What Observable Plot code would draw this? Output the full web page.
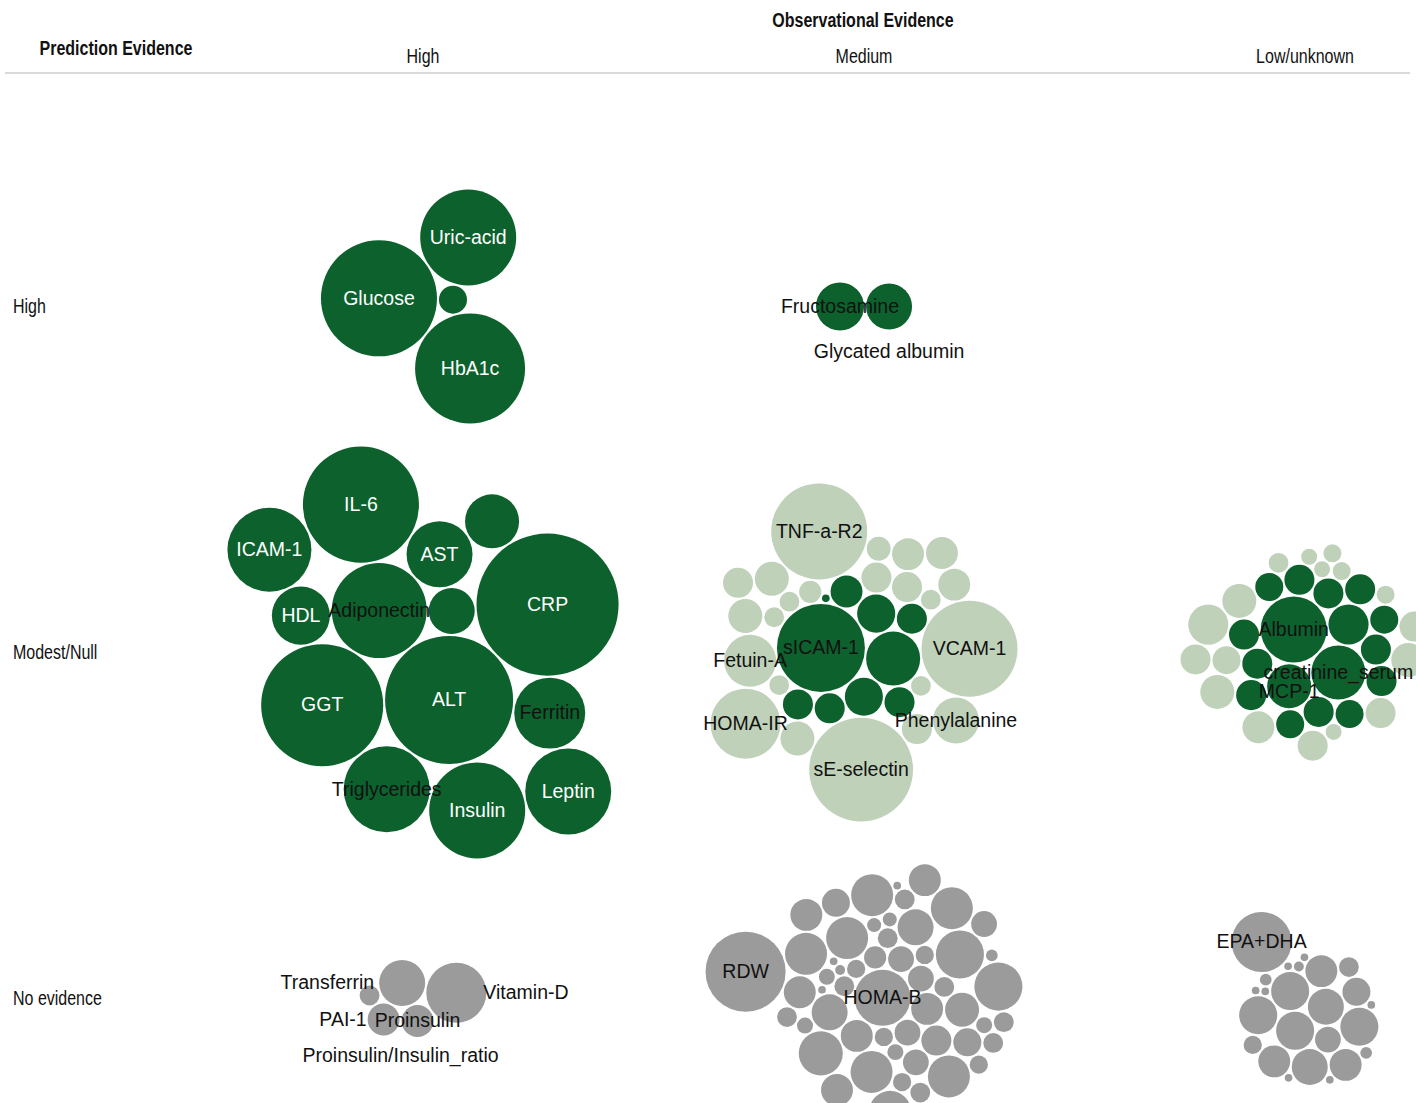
<!DOCTYPE html>
<html><head><meta charset="utf-8">
<script src="https://cdn.jsdelivr.net/npm/d3@7"></script>
<script src="https://cdn.jsdelivr.net/npm/@observablehq/plot@0.6"></script>
<style>
body{margin:0;background:#fff;}
#wrap{position:relative;width:1416px;height:1103px;overflow:hidden;}
.hdr{position:absolute;font-family:"Liberation Sans",Arial,sans-serif;font-size:19.5px;color:#111;white-space:nowrap;transform:translate(-50%,-50%) scaleX(0.82);}
.row{position:absolute;font-family:"Liberation Sans",Arial,sans-serif;font-size:19.5px;color:#111;white-space:nowrap;transform-origin:left center;transform:translateY(-50%) scaleX(0.82);}
.b{font-weight:bold;}
#line{position:absolute;left:5px;top:72px;width:1405px;height:2px;background:#dadada;}
</style></head><body>
<div id="wrap">
<div class="hdr b" style="left:863px;top:20px">Observational Evidence</div>
<div class="hdr b" style="left:116px;top:48px">Prediction Evidence</div>
<div id="line"></div>
</div>
<script>
// ---- categories ----
const obsLevels = ["High", "Medium", "Low/unknown"];
const predLevels = ["High", "Modest/Null", "No evidence"];
const kinds = ["strong", "weak", "none"];

// ---- clusters (names: "" = unlabeled; values: bubble size) ----
// Prediction High × Observational High
const hiHi_names = ["Glucose", "", "HbA1c", "Uric-acid"];
const hiHi_values = [68.7, 4, 61.7, 47];
// Prediction High × Observational Medium
const hiMed_names = ["Fructosamine", "Glycated albumin"];
const hiMed_values = [11.8, 10.8];
// Prediction Modest/Null × Observational High
const modHi_names = ["Adiponectin", "ALT", "GGT", "", "AST", "CRP", "Triglycerides", "HDL", "Ferritin", "", "IL-6", "Insulin", "ICAM-1", "Leptin"];
const modHi_values = [46, 83.6, 76, 10.8, 22.2, 103, 37.7, 17.2, 25.7, 14.9, 68.7, 47, 36, 37.7];
// Prediction Modest/Null × Observational Medium (strong)
const modMedS_names = ["sICAM-1", "", "", "", "", "", "", "", "", ""];
const modMedS_values = [39.5, 14.9, 7.4, 7.4, 5.2, 4.6, 4.6, 4.6, 4.6, 0.3];
// Prediction Modest/Null × Observational Medium (weak)
const modMedW_names = ["sE-selectin", "", "", "TNF-a-R2", "", "", "", "VCAM-1", "", "", "", "Fetuin-A", "", "", "Phenylalanine", "", "", "HOMA-IR", "", "", "", "", ""];
const modMedW_values = [55, 4.6, 2.5, 47, 2, 4.6, 4.6, 47, 2, 2, 5.9, 13.8, 2, 2.9, 10.8, 5.9, 5.9, 25, 2, 4.6, 5.2, 5.2, 5.2];
// Prediction Modest/Null × Observational Low/unknown (strong)
const modLowS_names = ["Albumin", "creatinine_serum", "MCP-1", "", "", "", "", "", "", "", "", "", "", "", "", "", ""];
const modLowS_values = [22.2, 14.9, 9.9, 8.2, 4.6, 4.6, 4.6, 4.6, 4.6, 4.6, 4.6, 4.6, 4.6, 4, 4, 4, 4];
// Prediction Modest/Null × Observational Low/unknown (weak)
const modLowW_values = [5.9, 4.6, 1.65, 1.3, 4, 5.2, 1.65, 5.9, 5.9, 1.3, 4.6, 4.6, 1.65, 2, 1.3, 8.2, 4.6];
// Prediction No evidence × Observational High
const noHi_names = ["Transferrin", "Proinsulin", "PAI-1", "Vitamin-D", "Proinsulin/Insulin_ratio"];
const noHi_values = [10.8, 5.2, 5.2, 18.4, 2];
// Prediction No evidence × Observational Medium (HOMA-B first, RDW last)
const noMed_values = [16, 3.4, 5.2, 3.4, 2.5, 3.4, 1.7, 1.7, 2, 1.7, 2, 2, 5.2, 4.6, 11.8, 6.6, 6.6, 9, 5.9, 1.3, 1, 0.5, 9, 4, 3.4, 0.3, 9, 1.3, 11.8, 0.3, 1, 9.9, 9, 9, 1.7, 9, 5.2, 4, 2, 5.2, 1.7, 1.3, 1.3, 2, 5.2, 5.2, 2, 2, 3.4, 0.7, 9, 2, 0.3, 32.7];
const noMed_names = noMed_values.map((v, i) => i === 0 ? "HOMA-B" : i === noMed_values.length - 1 ? "RDW" : "");
// Prediction No evidence × Observational Low/unknown (EPA+DHA last)
const noLow_values = [6.6, 7.4, 7.4, 3.4, 7.4, 6.6, 7.4, 5.2, 5.2, 4, 5.2, 1.7, 2, 0.7, 0.5, 0.3, 0.3, 0.7, 0.3, 0.3, 0.3, 0.3, 0.3, 18.4];
const noLow_names = noLow_values.map((v, i) => i === noLow_values.length - 1 ? "EPA+DHA" : "");

// label placement relative to its bubble (default: centred): [side, gap, shift]
const labelSide = {"Glycated albumin": ["bottom", 22, 0], "Transferrin": ["left", 5, 0], "Vitamin-D": ["right", -3, 0], "PAI-1": ["left", 1, 0], "Proinsulin/Insulin_ratio": ["bottom", 50, 31], "MCP-1": ["bottom", -17, 0]};
// cluster orientation: degrees, or a named bubble and its direction from the cluster centre
const clusterTurn = {
  "High|High": 1, "Medium|High": 0, "High|Modest/Null": 52,
  "Medium|Modest/Null": {name: "sE-selectin", angle: 87},
  "Low/unknown|Modest/Null": 44, "High|No evidence": 68,
  "Medium|No evidence": {name: "RDW", angle: -172},
  "Low/unknown|No evidence": {name: "EPA+DHA", angle: -122}
};

const groupsDef = [
  [obsLevels[0], predLevels[0], kinds[0], hiHi_names, hiHi_values],
  [obsLevels[1], predLevels[0], kinds[0], hiMed_names, hiMed_values],
  [obsLevels[0], predLevels[1], kinds[0], modHi_names, modHi_values],
  [obsLevels[1], predLevels[1], kinds[0], modMedS_names, modMedS_values],
  [obsLevels[1], predLevels[1], kinds[1], modMedW_names, modMedW_values],
  [obsLevels[2], predLevels[1], kinds[0], modLowS_names, modLowS_values],
  [obsLevels[2], predLevels[1], kinds[1], [], modLowW_values],
  [obsLevels[0], predLevels[2], kinds[2], noHi_names, noHi_values],
  [obsLevels[1], predLevels[2], kinds[2], noMed_names, noMed_values],
  [obsLevels[2], predLevels[2], kinds[2], noLow_names, noLow_values]
];

const nodes = [];
for (const [obs, pred, kind, names, values] of groupsDef) {
  values.forEach((v, i) => nodes.push({obs, pred, kind, name: names[i] || "", value: v}));
}

const rOpts = {type: "sqrt", domain: [0, 100], range: [0, 70]};
const rScale = Plot.scale({r: rOpts});
for (const [key, g] of d3.groups(nodes, d => d.obs + "|" + d.pred)) {
  const circles = g.map(d => ({d, r: rScale.apply(d.value) + 1}));
  d3.packSiblings(circles);
  const turn = clusterTurn[key] ?? 0;
  let theta = 0;
  if (typeof turn === "number") theta = turn * Math.PI / 180;
  else {
    const wsum = d3.sum(circles, c => c.r * c.r);
    const cx = d3.sum(circles, c => c.x * c.r * c.r) / wsum, cy = d3.sum(circles, c => c.y * c.r * c.r) / wsum;
    const t = circles.find(c => c.d.name === turn.name);
    theta = turn.angle * Math.PI / 180 - Math.atan2(t.y - cy, t.x - cx);
  }
  const cos = Math.cos(theta), sin = Math.sin(theta);
  for (const c of circles) { const x = c.x, y = c.y; c.x = x * cos - y * sin; c.y = x * sin + y * cos; }
  const x0 = d3.min(circles, c => c.x - c.r), x1 = d3.max(circles, c => c.x + c.r);
  const y0 = d3.min(circles, c => c.y - c.r), y1 = d3.max(circles, c => c.y + c.r);
  for (const c of circles) {
    c.d.x = c.x - (x0 + x1) / 2;
    c.d.y = c.y - (y0 + y1) / 2;
    c.d.rad = c.r - 1;
  }
}

const labelFont = "Liberation Sans, Arial, sans-serif";
const fontSize = 19.5;
const ctx = document.createElement("canvas").getContext("2d");
ctx.font = `${fontSize}px ${labelFont}`;
const labels = nodes.filter(d => d.name).map(d => {
  const [side, gap, shift] = labelSide[d.name] || ["center", 0, 0];
  const w = ctx.measureText(d.name).width;
  const white = d.kind === kinds[0] && side === "center" && w < 0.82 * 2 * d.rad;
  let lx = d.x, ly = d.y, anchor = "middle";
  if (side === "left") { lx = d.x - d.rad - gap; anchor = "end"; }
  if (side === "right") { lx = d.x + d.rad + gap; anchor = "start"; }
  if (side === "bottom") { ly = d.y + d.rad + gap; lx = d.x + shift; }
  return {...d, lx, ly, anchor, fill: white ? "white" : "#111"};
});

const textMarks = [];
for (const anchor of ["middle", "start", "end"]) {
  for (const fill of ["white", "#111"]) {
    const sub = labels.filter(l => l.anchor === anchor && l.fill === fill);
    if (sub.length) textMarks.push(Plot.text(sub, {fx: "obs", fy: "pred", x: "lx", y: "ly", text: "name", fill, textAnchor: anchor, fontSize, fontFamily: labelFont}));
  }
}

const chart = Plot.plot({
  width: 1416, height: 1103, margin: 0,
  fx: {domain: obsLevels, range: [201.5, 1524.5], padding: 0, axis: null},
  fy: {domain: predLevels, range: [133, 1171], padding: 0, axis: null},
  x: {domain: [-220.5, 220.5], range: [0, 441], axis: null},
  y: {domain: [-173, 173], range: [0, 346], axis: null},
  r: rOpts,
  color: {domain: kinds, range: ["#0c612c", "#bfd1b9", "#9b9b9b"]},
  marks: [
    Plot.dot(nodes, {fx: "obs", fy: "pred", x: "x", y: "y", r: "value", fill: "kind"}),
    ...textMarks
  ]
});
chart.style.position = "absolute";
chart.style.left = "0";
chart.style.top = "0";
const wrap = document.getElementById("wrap");
wrap.insertBefore(chart, wrap.firstChild);

// facet labels, positioned with the chart's own fx / fy scales
const fxS = chart.scale("fx"), fyS = chart.scale("fy");
for (const v of obsLevels) {
  const el = document.createElement("div");
  el.className = "hdr";
  el.textContent = v;
  el.style.left = (fxS.apply(v) + fxS.bandwidth / 2) + "px";
  el.style.top = "56px";
  wrap.appendChild(el);
}
for (const v of predLevels) {
  const el = document.createElement("div");
  el.className = "row";
  el.textContent = v;
  el.style.left = "13px";
  el.style.top = (fyS.apply(v) + fyS.bandwidth / 2) + "px";
  wrap.appendChild(el);
}
</script>
</body></html>
